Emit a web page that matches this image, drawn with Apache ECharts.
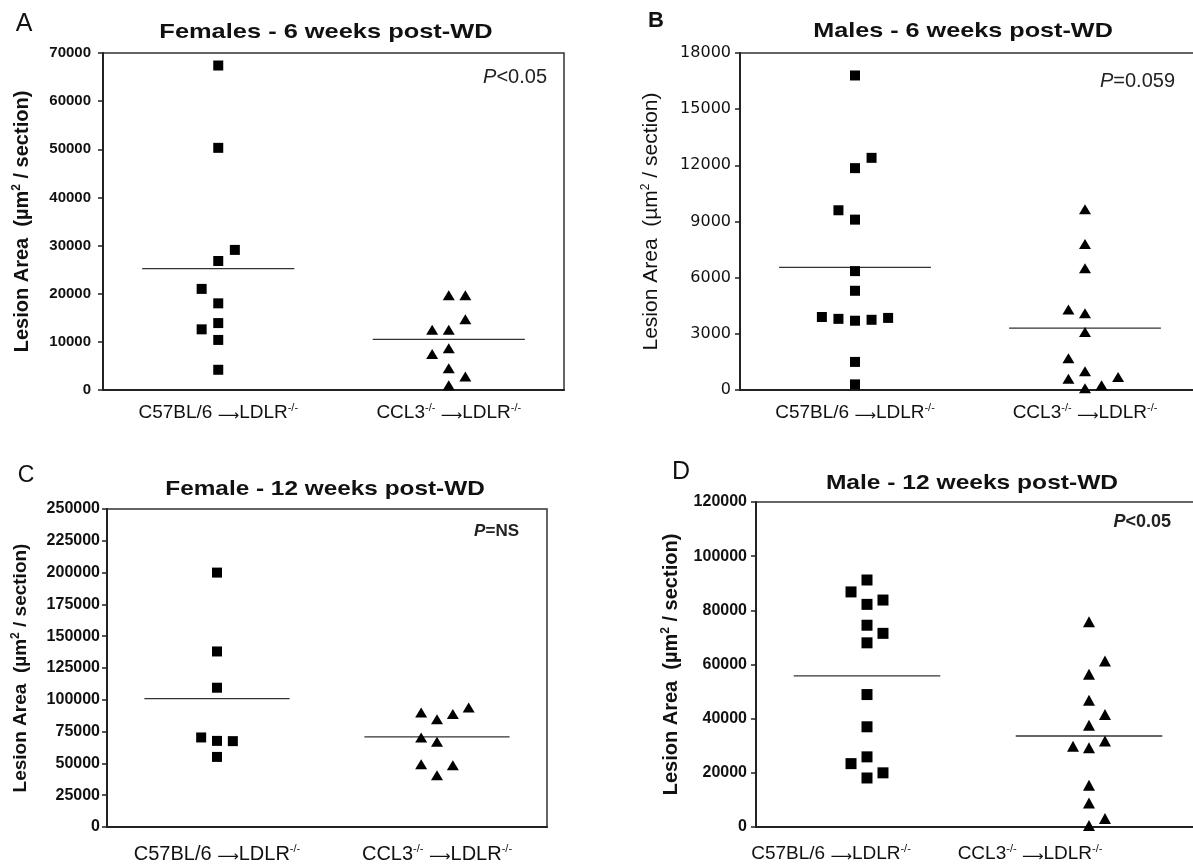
<!DOCTYPE html>
<html>
<head>
<meta charset="utf-8">
<script src="https://cdn.jsdelivr.net/npm/echarts@6/dist/echarts.min.js"></script>
<style>
  html, body { margin: 0; padding: 0; background: #fff; }
  #chart { width: 1193px; height: 866px; }
</style>
</head>
<body>
<div id="chart"></div>
<script>
const FONT = '"Liberation Sans", Arial, sans-serif';

// x categories (donor -> recipient)
const categories = ['C57BL/6', 'CCL3'];

// A: females, 6 weeks
const aWT = [67400, 50300, 29100, 26800, 21000, 18000, 13900, 12600, 10400, 4200];
const aWTslot = [0, 0, 1, 0, -1, 0, 0, -1, 0, 0];
const aKO = [19700, 19700, 14700, 12500, 12500, 8650, 7500, 4500, 2800, 1000];
const aKOslot = [0, 1, 1, -1, 0, 0, -1, 0, 1, 0];
const aMean = [25200, 10500];

// B: males, 6 weeks
const bWT = [16800, 12400, 11850, 9600, 9100, 6350, 5300, 3900, 3800, 3700, 3750, 3850, 1500, 300];
const bWTslot = [0, 1, 0, -1, 0, 0, 0, -2, -1, 0, 1, 2, 0, 0];
const bKO = [9650, 7800, 6500, 4300, 4100, 3100, 1700, 1000, 600, 700, 250, 100];
const bKOslot = [0, 0, 0, -1, 0, 0, -1, 0, -1, 2, 1, 0];
const bMean = [6550, 3300];

// C: female, 12 weeks
const cWT = [200000, 138000, 109500, 70400, 67700, 67500, 55100];
const cWTslot = [0, 0, 0, -1, 0, 1, 0];
const cKO = [94000, 90100, 88800, 84800, 70400, 67000, 49400, 48600, 40700];
const cKOslot = [2, -1, 1, 0, -1, 0, -1, 1, 0];
const cMean = [101000, 70900];

// D: male, 12 weeks
const dWT = [91200, 86800, 83800, 82200, 74500, 71500, 68000, 48900, 37000, 25900, 23400, 20000, 18100];
const dWTslot = [0, -1, 1, 0, 0, 1, 0, 0, 0, 0, -1, 1, 0];
const dKO = [75800, 61300, 56400, 46800, 41500, 37600, 31800, 29800, 29300, 15400, 8900, 3100, 600];
const dKOslot = [0, 1, 0, 0, 1, 0, 1, -1, 0, 0, 0, 1, 0];
const dMean = [55800, 33600];

// y axis ranges
const yMax = [70000, 18000, 250000, 120000];
const yStep = [10000, 3000, 25000, 20000];

const titles = ['Females - 6 weeks post-WD', 'Males - 6 weeks post-WD', 'Female - 12 weeks post-WD', 'Male - 12 weeks post-WD'];
const letters = ['A', 'B', 'C', 'D'];
const pTexts = ['<0.05', '=0.059', '=NS', '<0.05'];

const JITTER = 0.072; // column spacing, in category widths
const HALF = 0.33;    // half width of mean line

const grids = [
  { left: 103, top: 53, width: 461, height: 337 },
  { left: 740, top: 53, width: 460, height: 337 },
  { left: 107, top: 509, width: 440, height: 318 },
  { left: 756, top: 502, width: 444, height: 325 },
];
const look = [
  { bold: true, tick: 15, tickFont: FONT, margin: 12, gap: 70, name: 20, xFont: 19, xMargin: 12, sq: 10, tri: [12, 10], shift: [0, 0],
    title: [326, 32, 1.21], letter: [24, 24, 25, 'normal'], p: [547, 77, 20, 'normal'] },
  { bold: false, tick: 16, tickFont: '"DejaVu Sans", sans-serif', margin: 9, gap: 78, name: 21, xFont: 19, xMargin: 12, sq: 10, tri: [12, 10], shift: [0, 0],
    title: [963, 31, 1.2], letter: [656, 21, 22, 'bold'], p: [1175, 81, 20, 'normal'] },
  { bold: true, tick: 16, tickFont: FONT, margin: 7, gap: 75, name: 19, xFont: 20, xMargin: 16, sq: 10, tri: [12, 10], shift: [0, 0],
    title: [325, 489, 1.16], letter: [26, 476, 23, 'normal'], p: [519, 531, 17, 'bold'] },
  { bold: true, tick: 16, tickFont: FONT, margin: 9, gap: 74, name: 20, xFont: 19, xMargin: 16, sq: 11, tri: [12, 11], shift: [72, 118],
    title: [972, 483, 1.17], letter: [681, 472, 25, 'normal'], p: [1171, 522, 18, 'bold'] },
];
const panels = [
  [aWT, aWTslot, aKO, aKOslot, aMean],
  [bWT, bWTslot, bKO, bKOslot, bMean],
  [cWT, cWTslot, cKO, cKOslot, cMean],
  [dWT, dWTslot, dKO, dKOslot, dMean],
];

const pts = (vals, slots, g) => vals.map((v, i) => [g + 0.5 + slots[i] * JITTER, v]);
const meanLine = (m, g) => [[g + 0.5 - HALF, m], [g + 0.5 + HALF, m]];

let option = { animation: false, grid: [], xAxis: [], yAxis: [], series: [], graphic: [] };

panels.forEach((p, k) => {
  const L = look[k];
  const w = L.bold ? 'bold' : 'normal';
  option.grid.push(Object.assign({ show: true, borderColor: '#333', borderWidth: 1.5, outerBoundsMode: 'none', containLabel: false }, grids[k]));
  // visible category axis
  option.xAxis.push({
    type: 'category', gridIndex: k, data: categories, boundaryGap: true,
    axisLine: { lineStyle: { color: '#222', width: 2 } },
    axisTick: { alignWithLabel: true, length: 5, lineStyle: { color: '#222', width: 1.5 } },
    splitLine: { show: false },
    axisLabel: {
      margin: L.xMargin, interval: 0,
      formatter: (val, i) => {
        const sp = L.shift[i] ? '{sp' + i + '| }' : '';
        return i === 0
          ? '{t|' + val + ' }{arr|⟶}{t|LDLR}{sup|-/-}' + sp
          : '{t|' + val + '}{sup|-/-}{t| }{arr|⟶}{t|LDLR}{sup|-/-}' + sp;
      },
      rich: {
        t: { fontSize: L.xFont, fontFamily: FONT, color: '#111', lineHeight: 22, verticalAlign: 'middle' },
        sup: { fontSize: 11, fontFamily: FONT, color: '#111', lineHeight: 11, verticalAlign: 'top' },
        arr: { fontSize: 15, fontFamily: '"DejaVu Sans", sans-serif', color: '#111', lineHeight: 12, verticalAlign: 'bottom' },
        sp0: { width: L.shift[0] },
        sp1: { width: L.shift[1] },
      },
    },
  });
  // hidden value axis for jittered positions
  option.xAxis.push({ type: 'value', gridIndex: k, min: 0, max: 2, show: false });
  option.yAxis.push({
    type: 'value', gridIndex: k, min: 0, max: yMax[k], interval: yStep[k],
    name: '{n|Lesion Area  (µm}{s|2}{n| / section)}',
    nameLocation: 'middle', nameRotate: 90, nameGap: L.gap,
    nameTextStyle: {
      rich: {
        n: { fontSize: L.name, fontWeight: w, fontFamily: FONT, color: '#111', lineHeight: 22 },
        s: { fontSize: 12, fontWeight: w, fontFamily: FONT, color: '#111', lineHeight: 11, verticalAlign: 'top' },
      },
    },
    axisLine: { show: true, lineStyle: { color: '#222', width: 2 } },
    axisTick: { show: true, length: 5, lineStyle: { color: '#222', width: 1.5 } },
    splitLine: { show: false },
    axisLabel: { margin: L.margin, fontSize: L.tick, fontWeight: w, fontFamily: L.tickFont, color: '#111', formatter: (v) => String(v) },
  });
  const [wt, wtSlot, ko, koSlot, mean] = p;
  const xi = 2 * k + 1;
  option.series.push(
    { type: 'scatter', xAxisIndex: xi, yAxisIndex: k, symbol: 'rect', symbolSize: L.sq,
      itemStyle: { color: '#000', opacity: 1 }, data: pts(wt, wtSlot, 0), z: 3 },
    { type: 'scatter', xAxisIndex: xi, yAxisIndex: k, symbol: 'triangle', symbolSize: L.tri,
      itemStyle: { color: '#000', opacity: 1 }, data: pts(ko, koSlot, 1), z: 3 },
    { type: 'line', xAxisIndex: xi, yAxisIndex: k, symbol: 'none', data: meanLine(mean[0], 0),
      lineStyle: { color: '#333', width: 1.3 }, z: 2 },
    { type: 'line', xAxisIndex: xi, yAxisIndex: k, symbol: 'none', data: meanLine(mean[1], 1),
      lineStyle: { color: '#333', width: 1.3 }, z: 2 }
  );
  option.graphic.push(
    { type: 'text', x: L.title[0], y: L.title[1], scaleX: L.title[2],
      style: { text: titles[k], fontSize: 21, fontWeight: 'bold', fontFamily: FONT, fill: '#111', align: 'center', verticalAlign: 'middle' } },
    { type: 'text', x: L.letter[0], y: L.letter[1],
      style: { text: letters[k], fontSize: L.letter[2], fontWeight: L.letter[3], fontFamily: FONT, fill: '#111', align: 'center', verticalAlign: 'middle' } },
    { type: 'text', x: L.p[0], y: L.p[1],
      style: {
        text: '{i|P}{n|' + pTexts[k] + '}', align: 'right', verticalAlign: 'middle',
        rich: {
          i: { fontSize: L.p[2], fontStyle: 'italic', fontWeight: L.p[3], fontFamily: FONT, fill: '#222' },
          n: { fontSize: L.p[2], fontWeight: L.p[3], fontFamily: FONT, fill: '#222' },
        },
      } }
  );
});

const myChart = echarts.init(document.getElementById('chart'));
myChart.setOption(option);
</script>
</body>
</html>
